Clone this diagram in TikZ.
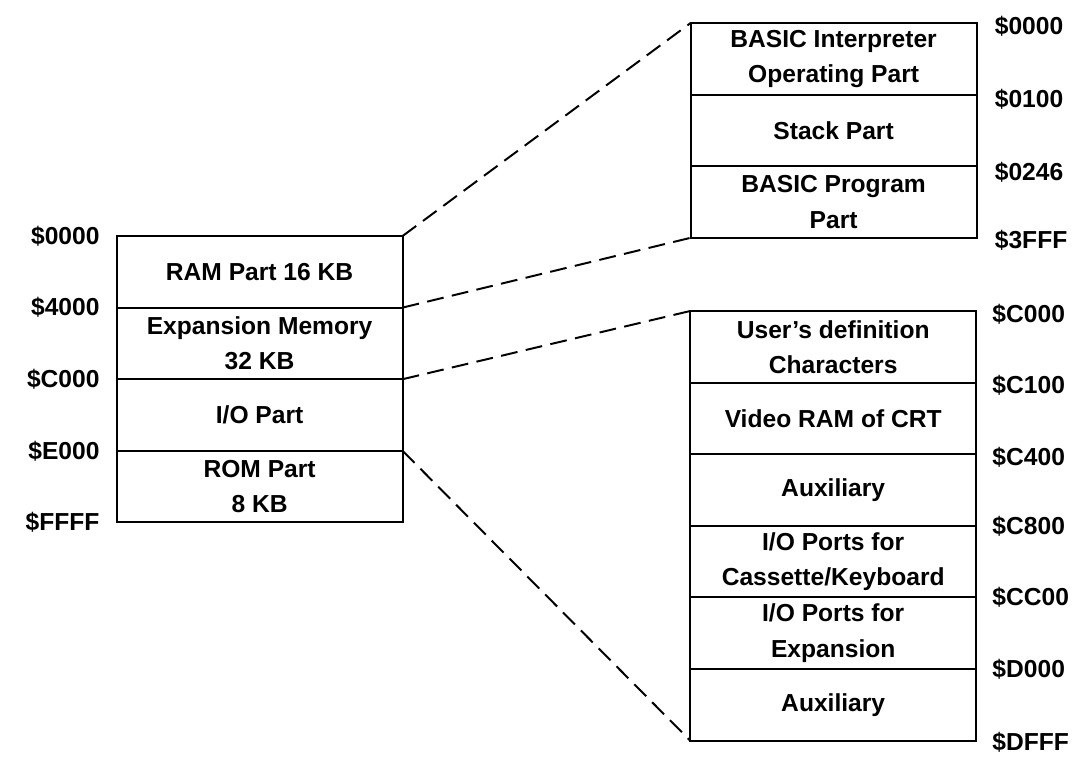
\documentclass[tikz,border=0pt]{standalone}
\usepackage{fontspec}
\setmainfont{Liberation Sans}
\usetikzlibrary{positioning}

\begin{document}
\begin{tikzpicture}[every node/.style={font=\bfseries\fontsize{17.5}{25}\selectfont},
                    memrow/.style={draw, line width=1.5pt, minimum width=7.15cm, outer sep=0pt,
                                   minimum height=1.79cm, align=center, inner sep=0pt},
                    addr/.style={inner sep=0pt, font=\bfseries\fontsize{17.5}{20}\selectfont},
                    link/.style={line width=1.4pt, dash pattern=on 12pt off 6pt}]

                            \useasboundingbox (0,0) rectangle (27.125,-18.9);

                            \node[memrow, anchor=north] (ram) at (6.49,-5.9) {RAM Part 16 KB};
                            \node[memrow, below=0pt of ram] (exp) {Expansion Memory\\32 KB};
                            \node[memrow, below=0pt of exp] (io) {I/O Part};
                            \node[memrow, below=0pt of io] (rom) {ROM Part\\8 KB};

                            \node[memrow, anchor=north] (interp) at (20.84,-0.575) {BASIC Interpreter\\Operating Part};
                            \node[memrow, below=0pt of interp] (stack) {Stack Part};
                            \node[memrow, below=0pt of stack] (prog) {BASIC Program\\Part};

                            \node[memrow, anchor=north] (chars) at (20.83,-7.775) {User's definition\\Characters};
                            \node[memrow, below=0pt of chars] (vram) {Video RAM of CRT};
                            \node[memrow, below=0pt of vram] (auxa) {Auxiliary};
                            \node[memrow, below=0pt of auxa] (cassio) {I/O Ports for\\Cassette/Keyboard};
                            \node[memrow, below=0pt of cassio] (expio) {I/O Ports for\\Expansion};
                            \node[memrow, below=0pt of expio] (auxb) {Auxiliary};

                            \node[addr, left=0.42cm of ram.north west] (a0000) {\$0000};
                            \node[addr, left=0.42cm of exp.north west] (a4000) {\$4000};
                            \node[addr, left=0.42cm of io.north west] (ac000) {\$C000};
                            \node[addr, left=0.42cm of rom.north west] (ae000) {\$E000};
                            \node[addr, left=0.42cm of rom.south west] (affff) {\$FFFF};

                            \node[addr, right=0.45cm of interp.north east, yshift=-2pt] (b0000) {\$0000};
                            \node[addr, right=0.45cm of stack.north east, yshift=-3pt] (b0100) {\$0100};
                            \node[addr, right=0.45cm of prog.north east, yshift=-4pt] (b0246) {\$0246};
                            \node[addr, right=0.45cm of prog.south east, yshift=-2pt] (b3fff) {\$3FFF};

                            \node[addr, right=0.4cm of chars.north east, yshift=-2pt] (c0000) {\$C000};
                            \node[addr, right=0.4cm of vram.north east, yshift=-2pt] (c0100) {\$C100};
                            \node[addr, right=0.4cm of auxa.north east, yshift=-2pt] (c0400) {\$C400};
                            \node[addr, right=0.4cm of cassio.north east] (c0800) {\$C800};
                            \node[addr, right=0.4cm of expio.north east] (c0c00) {\$CC00};
                            \node[addr, right=0.4cm of auxb.north east] (d0000) {\$D000};
                            \node[addr, right=0.4cm of auxb.south east, yshift=-1pt] (dffff) {\$DFFF};

                            \draw[link] (ram.north east) -- (interp.north west);
                            \draw[link] (exp.north east) -- (prog.south west);
                            \draw[link] (io.north east) -- (chars.north west);
                            \draw[link] (rom.north east) -- (auxb.south west);
                        \end{tikzpicture}
\end{document}
